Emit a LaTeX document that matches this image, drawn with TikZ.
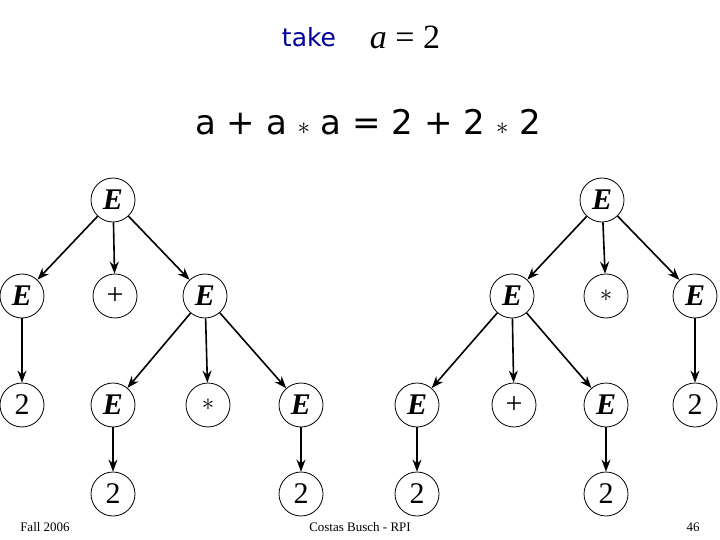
\documentclass[tikz,border=0pt]{standalone}
\usepackage{fontspec}
\setmainfont{Liberation Serif}
\newfontfamily\sansf{DejaVu Sans}
\usetikzlibrary{arrows.meta}
\begin{document}
\begin{tikzpicture}[x=1pt,y=-1pt,
  nd/.style={circle,draw,line width=0.8pt,minimum size=44pt,inner sep=0pt,font=\fontsize{30}{30}\selectfont},
  ar/.style={-{Stealth[length=12pt,width=9pt]},line width=1.6pt},
  ft/.style={font=\fontsize{13}{13}\selectfont}]
\useasboundingbox (0,0) rectangle (720,540);
\newcommand{\EE}{\textbf{\textit{E}}}
\node[font=\sansf\fontsize{25}{25}\selectfont,text=blue!60!black] (take) at (309,37) {take};
\node[font=\fontsize{34}{34}\selectfont] (aeq) at (405,37) {\textit{a} = 2};
\node[font=\sansf\fontsize{34}{34}\selectfont] (eq) at (368,122) {a + a $*$ a = 2 + 2 $*$ 2};
% left tree
\node[nd] (l0) at (113,200) {\EE};
\node[nd] (l1) at (22,296) {\EE};
\node[nd] (l2) at (115,296) {+};
\node[nd] (l3) at (205,296) {\EE};
\node[nd] (l4) at (22,405) {2};
\node[nd] (l5) at (113,405) {\EE};
\node[nd] (l6) at (208,405) {$*$};
\node[nd] (l7) at (301,405) {\EE};
\node[nd] (l8) at (113,494) {2};
\node[nd] (l9) at (301,494) {2};
\foreach \a/\b in {l0/l1,l0/l2,l0/l3,l1/l4,l3/l5,l3/l6,l3/l7,l5/l8,l7/l9}
  \draw[ar] (\a) -- (\b);
% right tree
\node[nd] (r0) at (602,200) {\EE};
\node[nd] (r1) at (512,296) {\EE};
\node[nd] (r2) at (606,296) {$*$};
\node[nd] (r3) at (695,296) {\EE};
\node[nd] (r4) at (417,405) {\EE};
\node[nd] (r5) at (514,405) {+};
\node[nd] (r6) at (606,405) {\EE};
\node[nd] (r7) at (695,405) {2};
\node[nd] (r8) at (417,494) {2};
\node[nd] (r9) at (606,494) {2};
\foreach \a/\b in {r0/r1,r0/r2,r0/r3,r1/r4,r1/r5,r1/r6,r3/r7,r4/r8,r6/r9}
  \draw[ar] (\a) -- (\b);
\node[ft] (f1) at (45,527) {Fall 2006};
\node[ft] (f2) at (360,527) {Costas Busch - RPI};
\node[ft] (f3) at (693,527) {46};
\end{tikzpicture}
\end{document}
